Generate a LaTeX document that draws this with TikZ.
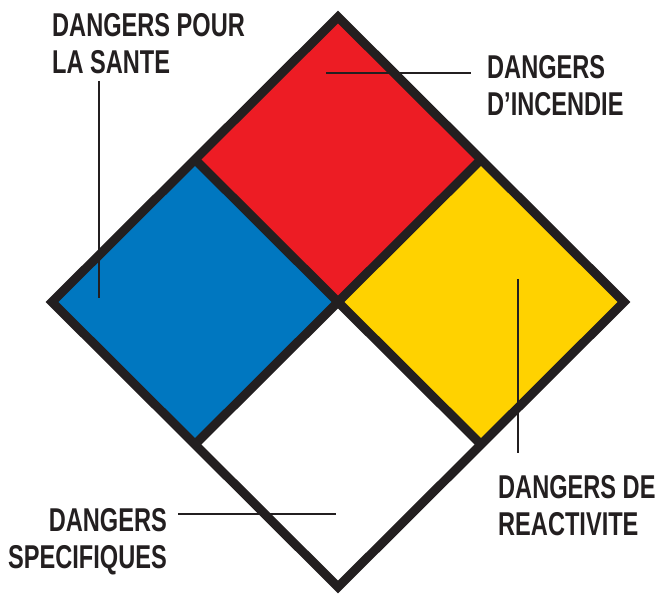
\documentclass[tikz,border=0pt]{standalone}
\usepackage{fontspec}
\usepackage{tikz}
\usetikzlibrary{positioning, calc}
\newfontfamily\lblfont[FakeStretch=0.715]{Liberation Sans}
\definecolor{nfpared}{RGB}{237,28,36}
\definecolor{nfpablue}{RGB}{0,119,192}
\definecolor{nfpayellow}{RGB}{255,210,0}
\definecolor{nfpadark}{RGB}{35,31,32}
\tikzset{
  border/.style={draw=nfpadark, line width=9pt, miter limit=10, line join=miter},
  leader/.style={draw=nfpadark, line width=1.8pt},
  lbl/.style={inner sep=0pt, text=nfpadark,
    font=\lblfont\bfseries\fontsize{33}{37}\selectfont}
}
\begin{document}
\begin{tikzpicture}[x=1pt, y=1pt]
  \useasboundingbox (0,0) rectangle (659,595);

  % Corners of the diamond
  \coordinate (top) at (338,578);
  \coordinate (left) at (52,293);
  \coordinate (right) at (624,293);
  \coordinate (bottom) at (338,8);
  \coordinate (ctr) at (338,293);
  % Midpoints of the sides
  \coordinate (ul) at ($(top)!0.5!(left)$);
  \coordinate (ur) at ($(top)!0.5!(right)$);
  \coordinate (lr) at ($(bottom)!0.5!(right)$);
  \coordinate (ll) at ($(bottom)!0.5!(left)$);

  % Sectors
  \fill[nfpared] (top) -- (ur) -- (ctr) -- (ul) -- cycle;
  \fill[nfpablue] (ul) -- (ctr) -- (ll) -- (left) -- cycle;
  \fill[nfpayellow] (ur) -- (right) -- (lr) -- (ctr) -- cycle;
  \fill[white] (ctr) -- (lr) -- (bottom) -- (ll) -- cycle;

  % Dividers and frame
  \draw[border] (ul) -- (lr);
  \draw[border] (ur) -- (ll);
  \draw[border] (top) -- (right) -- (bottom) -- (left) -- cycle;

  % Labels
  \node[lbl, anchor=north west, align=left] (health) at (52,582) {DANGERS POUR\\LA SANTE};
  \node[lbl, anchor=north west, align=left] (fire) at (487,540) {DANGERS\\D’INCENDIE};
  \node[lbl, anchor=north west, align=left] (react) at (498,120) {DANGERS DE\\REACTIVITE};
  \node[lbl, anchor=north east, align=right] (spec) at (167,87) {DANGERS\\SPECIFIQUES};

  % Leader lines
  \coordinate (hpt) at (99,297);
  \coordinate (fpt) at (326,522);
  \coordinate (rpt) at (518,316);
  \coordinate (spt) at (336,81);
  \draw[leader] ([yshift=-7pt]hpt |- health.south) -- (hpt);
  \draw[leader] (fpt) -- ([xshift=-16pt]fpt -| fire.west);
  \draw[leader] (rpt) -- ([yshift=22pt]rpt |- react.north);
  \draw[leader] ([xshift=11pt]spt -| spec.east) -- (spt);
\end{tikzpicture}
\end{document}
